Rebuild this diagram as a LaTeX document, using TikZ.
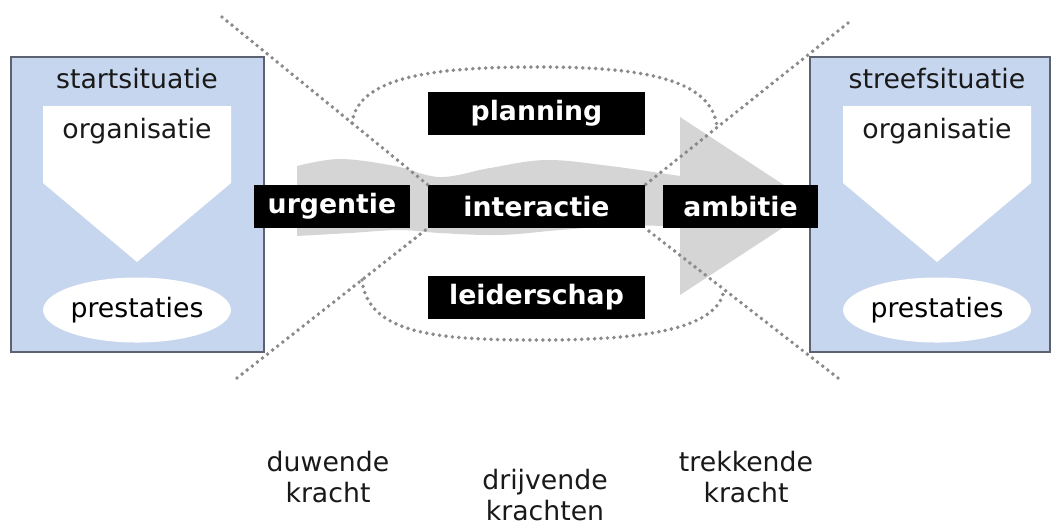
\documentclass[tikz,border=0pt]{standalone}
\usepackage{fontspec}
\setmainfont{DejaVu Sans}
\usepackage{tikz}
\usetikzlibrary{shapes.geometric}
\definecolor{boxblue}{HTML}{C6D6EE}
\definecolor{boxline}{HTML}{5C6270}
\definecolor{arrowgray}{HTML}{D5D5D5}
\definecolor{dotgray}{HTML}{8A8A8A}

\begin{document}
\begin{tikzpicture}[x=0.025cm, y=-0.025cm,
	situatie/.style={draw=boxline, line width=1.2pt, fill=boxblue, minimum width=6.325cm, minimum height=7.375cm, inner sep=0pt},
	plain/.style={font=\fontsize{19}{21.5}\selectfont, text=black!90, inner sep=1pt},
	kracht/.style={fill=black, text=white, font=\fontsize{19}{22}\selectfont\bfseries, minimum height=1.075cm, inner sep=0pt},
	prest/.style={ellipse, fill=white, minimum width=4.675cm, minimum height=1.625cm, inner sep=0pt, font=\fontsize{19}{22}\selectfont},
	dotline/.style={draw=dotgray, line width=2.8pt, dash pattern=on 0pt off 4.6pt, line cap=round}]
\useasboundingbox (0,0) rectangle (1051,529);
\node[situatie] (start) at (137.5,204.5) {};
\node[situatie, minimum width=6cm] (streef) at (930,204.5) {};
\fill[white] (43,106) -- (231,106) -- (231,183) -- (137,262) -- (43,183) -- cycle;
\fill[white] (843,106) -- (1031,106) -- (1031,183) -- (937,262) -- (843,183) -- cycle;
\node[plain] (startlbl) at (137,79) {startsituatie};
\node[plain] (streeflbl) at (937,79) {streefsituatie};
\node[plain] (org1) at (137,131) {organisatie};
\node[plain] (org2) at (937,131) {organisatie};
\node[prest] (prest1) at (137,310) {prestaties};
\node[prest] (prest2) at (937,310) {prestaties};
\fill[arrowgray] (297,236) -- plot[smooth, tension=0.6] coordinates {(297,166) (340,159) (395,166) (440,177) (490,168) (546,160) (610,166) (680,176)}
	-- (680,117) -- (816,206) -- (680,295)
	-- plot[smooth, tension=0.6] coordinates {(680,226) (620,226) (560,230) (500,235) (440,233) (400,230) (350,233) (297,236)} -- cycle;
\node[kracht, minimum width=5.425cm] (planning) at (536.5,113) {planning};
\node[kracht, minimum width=5.425cm] (interactie) at (536.5,206.5) {interactie};
\node[kracht, minimum width=5.425cm] (leiderschap) at (536.5,297.5) {leiderschap};
\node[kracht, minimum width=3.9cm] (urgentie) at (332,206.5) {urgentie};
\node[kracht, minimum width=3.875cm] (ambitie) at (740.5,206.5) {ambitie};
\coordinate (lb) at (222,17);
\coordinate (rb) at (848,23);
\coordinate (lo) at (237,378);
\coordinate (ro) at (838,378);
\path[dotline] (lb) -- (interactie.north west)
	(rb) -- (interactie.north east)
	(lo) -- (interactie.south west)
	(ro) -- (interactie.south east);
\path[dotline] (352,123) .. controls (358,75) and (440,67) .. (538,67) .. controls (640,67) and (712,78) .. (717,127);
\path[dotline] (362,280) .. controls (368,335) and (440,340) .. (540,340) .. controls (640,340) and (718,330) .. (724,290);
\node[plain, align=center] (duwend) at (328,477) {duwende\\kracht};
\node[plain, align=center] (drijvend) at (545,495) {drijvende\\krachten};
\node[plain, align=center] (trekkend) at (746,477) {trekkende\\kracht};
\end{tikzpicture}
\end{document}
